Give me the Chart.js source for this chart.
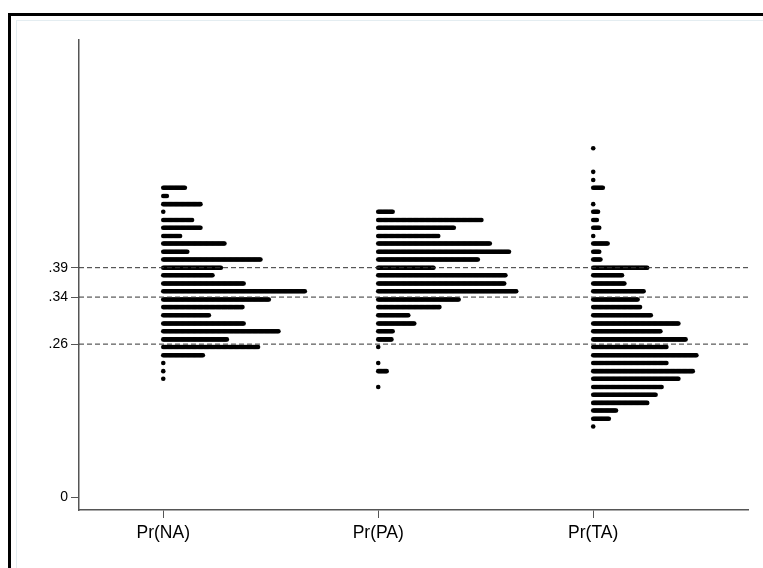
<!DOCTYPE html>
<html>
<head>
<meta charset="utf-8">
<script src="https://cdn.jsdelivr.net/npm/chart.js@4"></script>
<style>
  body { margin: 0; background: #fff; overflow: hidden; }
  .frame { position: absolute; left: 8px; top: 13px; width: 800px; height: 600px; border: 3px solid #000; }
  .inner { position: absolute; left: 16px; top: 20px; width: 800px; height: 600px; border-top: 1px solid #e4edf1; border-left: 1px solid #e4edf1; }
  .wrap { position: absolute; left: 0; top: 0; width: 763px; height: 568px; }
</style>
</head>
<body>
<div class="frame"></div>
<div class="inner"></div>
<div class="wrap"><canvas id="myChart" width="763" height="568"></canvas></div>
<script>
const categories = ["Pr(NA)", "Pr(PA)", "Pr(TA)"];
const yTicks = [0, 0.26, 0.34, 0.39];
const refLines = [0.26, 0.34, 0.39];

// dot rows: value of the row and how many dots are stacked on it
const naValues = [.526, .512, .498, .485, .471, .458, .444, .431, .417, .404, .390, .377, .363,
  .350, .336, .323, .309, .295, .282, .268, .255, .241, .228, .214, .201];
const naCounts = [19, 4, 32, 1, 25, 32, 15, 52, 21, 82, 49, 42, 68, 119, 89, 67, 39, 68, 97, 54,
  80, 34, 1, 1, 1];

const paValues = [.485, .471, .458, .444, .431, .417, .404, .390, .377, .363, .350, .336, .323,
  .309, .295, .282, .268, .255, .228, .214, .187];
const paCounts = [13, 87, 64, 51, 94, 110, 84, 47, 107, 106, 116, 68, 52, 26, 31, 13, 12, 1, 1, 8, 1];

const taValues = [.593, .553, .539, .526, .498, .485, .471, .458, .444, .431, .417, .404, .390,
  .377, .363, .350, .336, .323, .309, .295, .282, .268, .255, .241, .228, .214, .201, .187,
  .174, .160, .147, .133, .120];
const taCounts = [1, 1, 1, 9, 1, 5, 4, 6, 1, 13, 6, 7, 46, 25, 27, 43, 38, 40, 49, 72, 57, 78, 62,
  87, 62, 84, 72, 58, 53, 46, 20, 14, 1];

const xMin = 0.608;
const xMax = 3.72;
const dotStep = 0.00558;

function dots(pos, values, counts) {
  const pts = [];
  values.forEach((v, i) => {
    for (let j = 0; j < counts[i]; j++) pts.push({ x: pos + j * dotStep, y: v });
  });
  return pts;
}

const datasets = [];
refLines.forEach((v) => {
  datasets.push({
    type: "line",
    data: [{ x: xMin, y: v }, { x: xMax, y: v }],
    borderColor: "#333",
    borderWidth: 1,
    borderDash: [5, 3],
    pointRadius: 0,
    fill: false,
  });
});
[[naValues, naCounts], [paValues, paCounts], [taValues, taCounts]].forEach((s, i) => {
  datasets.push({
    data: dots(i + 1, s[0], s[1]),
    backgroundColor: "#000",
    borderWidth: 0,
    pointRadius: 2.3,
  });
});

const config = {
  type: "scatter",
  data: { datasets: datasets },
  options: {
    responsive: false,
    animation: false,
    events: [],
    layout: { padding: { left: 0, top: 40, right: 15, bottom: 0 } },
    plugins: { legend: { display: false }, tooltip: { enabled: false } },
    scales: {
      x: {
        type: "linear",
        min: xMin,
        max: xMax,
        afterBuildTicks: (s) => { s.ticks = categories.map((c, i) => ({ value: i + 1 })); },
        afterFit: (s) => { s.height = 58; },
        grid: { drawOnChartArea: false, drawTicks: true, tickLength: 8, color: "#555" },
        border: { display: true, color: "#555", width: 1.5 },
        ticks: {
          color: "#000",
          padding: 5,
          maxRotation: 0,
          font: { family: "'Liberation Sans', Arial", size: 17.5 },
          callback: (v) => categories[Math.round(v) - 1],
        },
      },
      y: {
        type: "linear",
        min: -0.0221,
        max: 0.7772,
        afterBuildTicks: (s) => { s.ticks = yTicks.map((v) => ({ value: v })); },
        afterFit: (s) => { s.width = 79; },
        grid: { drawOnChartArea: false, drawTicks: true, tickLength: 8, color: "#555" },
        border: { display: true, color: "#555", width: 1.5 },
        ticks: {
          color: "#000",
          padding: 3,
          font: { family: "'Liberation Sans', Arial", size: 14 },
          callback: (v) => (v === 0 ? "0" : v.toFixed(2).replace(/^0/, "")),
        },
      },
    },
  },
};
const myChart = new Chart(document.getElementById("myChart"), config);
</script>
</body>
</html>
